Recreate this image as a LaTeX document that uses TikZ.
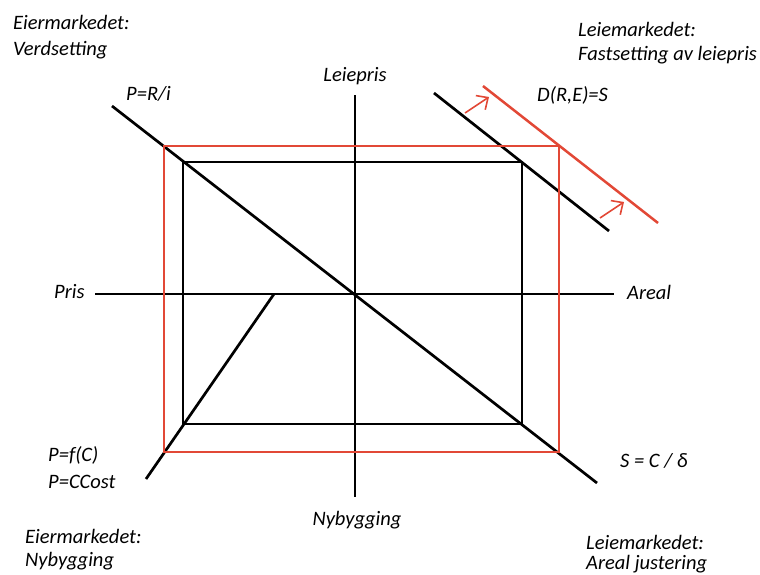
\documentclass[tikz,border=0pt]{standalone}
\usepackage{fontspec}
\setmainfont{Carlito}
\usetikzlibrary{arrows.meta}
\definecolor{redline}{RGB}{226,72,54}
\tikzset{
  blk/.style={line width=2.7pt, black},
  rd/.style={line width=2.5pt, redline},
  rdarrow/.style={line width=1.6pt, redline, -{Straight Barb[length=9pt,width=17pt,line width=1.6pt]}},
  lbl/.style={inner sep=0pt, font=\fontsize{20.5}{24}\selectfont\itshape, anchor=base west},
  lblc/.style={lbl, anchor=base}
}
\begin{document}
\begin{tikzpicture}[x=1pt,y=-1pt]
\useasboundingbox (0,0) rectangle (760,574);
% coordinates
\coordinate (vt) at (355,95);
\coordinate (vb) at (355,497);
\coordinate (hl) at (95,294);
\coordinate (hr) at (614,294);
\coordinate (d1) at (112,106);
\coordinate (d2) at (597,483);
\coordinate (f1) at (274,294);
\coordinate (f2) at (146,479);
\coordinate (u1) at (434,93);
\coordinate (u2) at (609,231);
\coordinate (r1) at (483,86);
\coordinate (r2) at (658,223);
\coordinate (a1s) at (465,113);
\coordinate (a1e) at (489,97);
\coordinate (a2s) at (600,218);
\coordinate (a2e) at (624,202);
\coordinate (bk1) at (183,162);
\coordinate (bk2) at (522,424);
\coordinate (rr1) at (164,146);
\coordinate (rr2) at (559,452);
% black rectangle
\draw[blk] (bk1) rectangle (bk2);
% axes
\draw[blk] (vt) -- (vb);
\draw[blk] (hl) -- (hr);
% lines
\draw[blk] (d1) -- (d2);
\draw[blk] (f1) -- (f2);
\draw[blk] (u1) -- (u2);
% red
\draw[rd] (rr1) rectangle (rr2);
\draw[rd] (r1) -- (r2);
\draw[rdarrow] (a1s) -- (a1e);
\draw[rdarrow] (a2s) -- (a2e);
% labels
\node[lbl] (em1) at (13,29) {Eiermarkedet:};
\node[lbl] (em2) at (13,55) {Verdsetting};
\node[lbl] (lm1) at (578,36) {Leiemarkedet:};
\node[lbl] (lm2) at (578,60) {Fastsetting av leiepris};
\node[lbl] (pri) at (126,100) {P=R/i};
\node[lbl] (dre) at (537,101) {D(R,E)=S};
\node[lblc] (lei) at (355,81) {Leiepris};
\node[lblc] (nyb) at (357,525) {Nybygging};
\node[lbl] (pris) at (54,298) {Pris};
\node[lbl] (areal) at (627,299) {Areal};
\node[lbl] (pf1) at (48,461) {P=f(C)};
\node[lbl] (pf2) at (48,488) {P=CCost};
\node[lbl] (scd) at (620,467) {S = C / δ};
\node[lbl] (en1) at (25,543) {Eiermarkedet:};
\node[lbl] (en2) at (25,566) {Nybygging};
\node[lbl] (la1) at (586,549) {Leiemarkedet:};
\node[lbl] (la2) at (586,569) {Areal justering};
\end{tikzpicture}
\end{document}
